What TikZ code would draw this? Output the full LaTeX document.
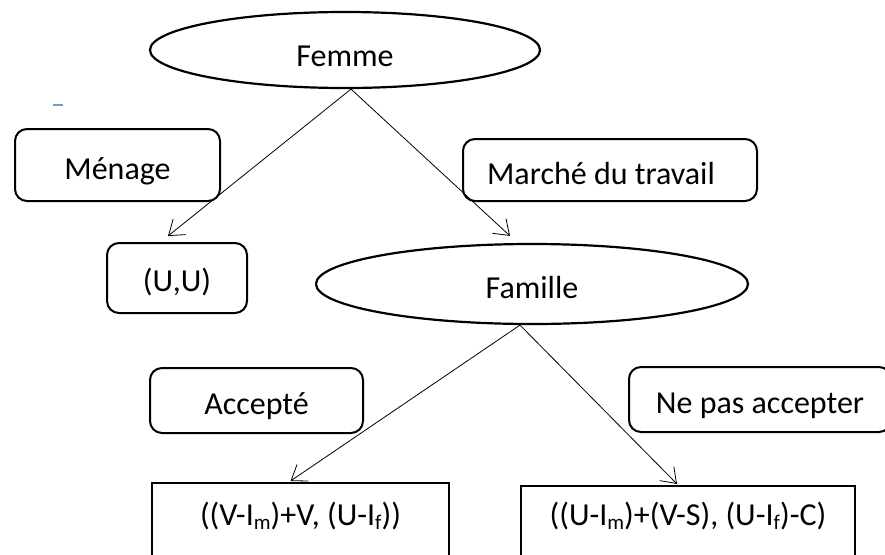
\documentclass[tikz,border=0pt]{standalone}
\usepackage{fontspec}
\setmainfont{Carlito}
\usetikzlibrary{shapes.geometric,arrows.meta}
\definecolor{dashblue}{RGB}{120,150,210}
\newcommand{\mysub}[1]{\raisebox{-4pt}{\fontsize{21}{21}\selectfont #1}}
\tikzset{
  ell/.style={draw, ellipse, line width=2.2pt, inner sep=0pt},
  rbox/.style={draw, rounded corners=12pt, line width=2pt, inner sep=0pt},
  sbox/.style={draw, line width=2pt, inner sep=0pt},
  conn/.style={line width=0.8pt, -{Straight Barb[length=14pt,width=20pt,line width=0.8pt]}},
  every node/.style={font=\fontsize{32}{38}\selectfont, text height=28.6pt, text depth=0pt}
}
\begin{document}
\begin{tikzpicture}[x=1pt,y=-1pt]
\useasboundingbox (0,0) rectangle (885,554);
\clip (0,0) rectangle (885,554);
% ellipses
\node[ell, minimum width=390pt, minimum height=76pt, text height=32.6pt] (fem) at (345,50) {Femme};
\node[ell, minimum width=432pt, minimum height=80pt] (fam) at (532,284) {Famille};
% label boxes
\node[rbox, minimum width=205pt, minimum height=72pt] (men) at (117.5,165) {Ménage};
\node[rbox, minimum width=294pt, minimum height=62pt] (mar) at (610,170) {Marché du travail\hspace*{18pt}};
\node[rbox, minimum width=213pt, minimum height=65pt] (acc) at (256.5,400.5) {Accepté};
\node[rbox, minimum width=262pt, minimum height=65pt] (npa) at (760,399.5) {Ne pas accepter};
% outcome boxes
\node[rbox, minimum width=140pt, minimum height=70pt, text height=26.6pt] (uu) at (177,278) {(U,U)};
\node[sbox, minimum width=297pt, minimum height=78pt, text height=6.6pt] (ra) at (300.5,522) {((V-I\mysub{m})+V, (U-I\mysub{f}))};
\node[sbox, minimum width=334pt, minimum height=72pt, text height=6.6pt] (rn) at (688,522) {((U-I\mysub{m})+(V-S), (U-I\mysub{f})-C)};
% stray blue dash
\coordinate (d1) at (53,105);
\coordinate (d2) at (63,105);
\draw[dashblue, line width=1.3pt] (d1) -- (d2);
% connectors
\draw[conn] ([xshift=6pt]fem.south) -- ([shift={(-9pt,6pt)}]uu.north);
\draw[conn] ([xshift=6pt]fem.south) -- ([shift={(-22pt,7pt)}]fam.north);
\draw[conn] ([xshift=-12pt]fam.south) -- ([shift={(-10pt,1pt)}]ra.north);
\draw[conn] ([xshift=-12pt]fam.south) -- ([shift={(-11pt,1pt)}]rn.north);
\end{tikzpicture}
\end{document}
